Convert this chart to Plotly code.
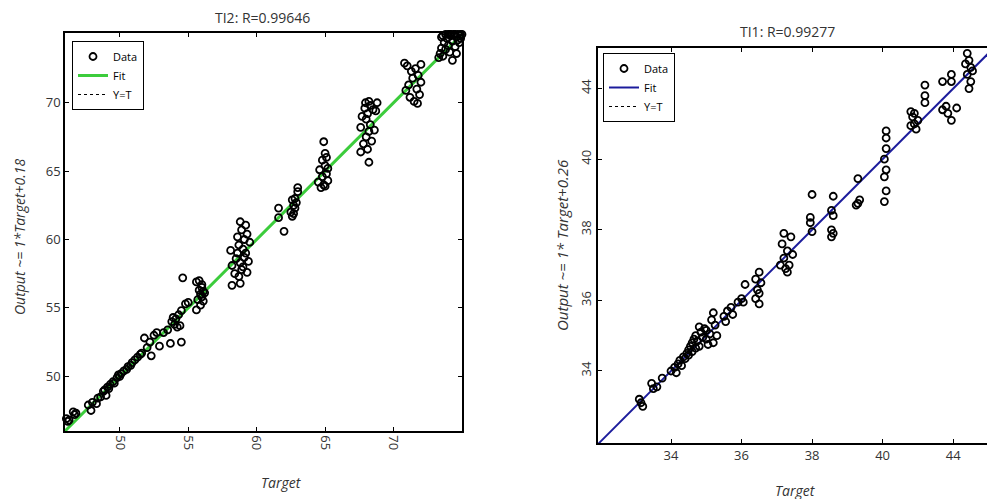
import plotly.graph_objects as go

# ---------------- data: left panel (TI2) ----------------
ti2_target = [46.1, 46.2, 46.3, 46.6, 46.7, 46.8, 47.7, 47.9, 48.0, 48.3, 48.4, 48.6, 48.8, 48.9, 49.0,
              49.1, 49.2, 49.3, 49.5, 49.6, 49.8, 49.9, 50.0, 50.1, 50.3, 50.5, 50.6, 50.8, 50.9, 51.1,
              51.3, 51.5, 51.6, 51.8, 52.0, 52.2, 52.3, 52.5, 52.7, 52.9, 53.2, 53.5,
              53.7, 53.8, 53.9, 54.0, 54.1, 54.2, 54.3, 54.4, 54.5, 54.5, 54.6, 54.8, 55.0,
              55.6, 55.6, 55.7, 55.8, 55.9, 55.9, 56.0, 56.0, 56.1, 56.1, 56.2, 55.8, 56.0,
              58.1, 58.2, 58.2, 58.4, 58.5, 58.6, 58.6, 58.7, 58.7, 58.8, 58.8, 58.8, 58.9, 58.9, 59.0,
              59.0, 59.1, 59.1, 59.2, 59.2, 59.3, 59.3, 59.4, 59.5,
              61.6, 61.6, 62.0, 62.5, 62.6, 62.7, 62.7, 62.8, 62.9, 63.0, 63.0, 62.6, 62.8,
              64.5, 64.6, 64.7, 64.8, 64.8, 64.9, 64.9, 65.0, 65.0, 65.0, 65.1, 65.1, 65.2, 65.2,
              67.6, 67.6, 67.7, 67.8, 67.9, 67.95, 68.0, 68.0, 68.1, 68.1, 68.2, 68.2, 68.2, 68.3, 68.3,
              68.4, 68.5, 68.6, 68.7, 68.8,
              70.8, 70.9, 71.0, 71.1, 71.2, 71.3, 71.4, 71.5, 71.6, 71.7, 71.75, 71.8, 71.9, 72.0, 72.0,
              73.3, 73.4, 73.5, 73.6, 73.7, 73.8, 73.9, 74.0, 74.1, 74.2, 74.3, 74.3, 74.4, 74.5, 74.6,
              74.7, 74.8, 74.9, 73.5, 73.8, 74.0, 74.2, 74.5, 74.7, 74.9, 75.0, 74.6, 73.6, 74.1]
ti2_output = [46.9, 46.7, 46.8, 47.4, 47.2, 47.3, 47.9, 47.5, 48.1, 48.0, 48.4, 48.5, 48.9, 49.0, 48.6,
              49.2, 49.1, 49.4, 49.6, 49.5, 49.9, 50.1, 50.0, 50.2, 50.4, 50.5, 50.7, 50.8, 51.0, 51.2,
              51.4, 51.6, 51.7, 52.8, 52.1, 52.5, 51.5, 53.0, 53.2, 52.2, 53.2, 53.4,
              52.4, 54.0, 54.3, 53.8, 54.2, 53.6, 54.5, 53.7, 52.5, 54.8, 57.2, 55.3, 55.4,
              56.9, 54.85, 55.6, 56.3, 55.2, 56.0, 56.5, 55.8, 56.2, 55.5, 56.1, 57.0, 56.7,
              59.2, 56.65, 58.1, 57.5, 58.6, 59.0, 60.2, 57.3, 59.6, 61.3, 56.8, 58.3, 60.7, 57.8, 59.3,
              58.0, 60.0, 58.7, 61.05, 59.0, 57.6, 60.4, 58.4, 59.8,
              62.3, 61.6, 60.6, 62.0, 61.7, 62.5, 61.9, 63.0, 62.7, 63.5, 63.8, 62.9, 62.3,
              64.2, 65.1, 63.8, 64.6, 65.8, 67.15, 64.0, 65.4, 66.3, 63.9, 64.8, 66.0, 64.3, 65.2,
              68.2, 66.4, 69.0, 67.0, 69.6, 70.0, 67.5, 68.8, 66.6, 69.2, 65.65, 67.9, 70.1, 68.4, 69.8,
              67.2, 69.5, 68.0, 69.4, 70.0,
              72.9, 70.9, 72.7, 71.3, 70.4, 72.3, 71.8, 70.1, 72.5, 71.0, 69.95, 72.0, 70.6, 72.8, 71.5,
              73.3, 73.6, 74.0, 73.4, 74.4, 73.9, 74.7, 74.2, 73.7, 74.9, 73.1, 74.5, 75.0, 74.1, 74.8,
              75.0, 74.4, 75.0, 74.8, 75.0, 75.0, 75.0, 75.0, 74.6, 74.7, 75.0, 73.6, 74.9, 75.0]
ti2_line = [46.0, 75.0]

# ---------------- data: right panel (TI1) ----------------
# positions on the evenly spaced axis; tick labels as printed
ti1_tick_pos = [34, 36, 38, 40, 42]
ti1_tick_text = ["34", "36", "38", "40", "44"]
ti1_target = [32.5, 33.1, 33.2, 33.15, 33.45, 33.5, 33.6, 33.75, 34.0, 34.1, 34.15, 34.2, 34.25, 34.3,
              34.35, 34.4, 34.45, 34.5, 34.5, 34.55, 34.6, 34.6, 34.65, 34.7, 34.7, 34.75, 34.8, 34.8,
              34.85, 34.9, 34.95, 35.0, 35.0, 35.05, 35.1, 35.15, 35.2, 35.2, 35.25, 35.3, 35.5, 35.55,
              35.6, 35.7, 35.75, 35.9, 36.0, 36.05, 36.1, 36.4, 36.4, 36.45, 36.5, 36.5, 36.55, 36.5,
              37.1, 37.15, 37.2, 37.25, 37.3, 37.3, 37.35, 37.4, 37.45, 37.2,
              38.0, 37.95, 37.95, 38.0, 38.6, 38.55, 38.6, 38.55, 38.55, 38.6, 39.3, 39.35, 39.25, 39.3,
              40.1, 40.1, 40.1, 40.05, 40.1, 40.05, 40.1, 40.05,
              40.8, 40.85, 40.9, 40.95, 41.0, 40.8, 40.9,
              41.2, 41.2, 41.2, 41.7, 41.95, 41.95, 41.7, 41.85, 41.95, 42.1, 41.8,
              42.45, 42.4, 42.45, 42.5, 42.4, 42.5, 42.45, 42.55, 42.35]
ti1_output = [31.95, 33.2, 33.0, 33.1, 33.65, 33.5, 33.55, 33.8, 34.0, 34.1, 33.95, 34.2, 34.3, 34.15,
              34.4, 34.35, 34.5, 34.6, 34.45, 34.7, 34.55, 34.8, 34.9, 34.65, 35.0, 34.85, 35.25, 34.7,
              35.1, 34.95, 35.2, 34.9, 35.15, 34.75, 35.05, 35.45, 35.65, 34.8, 35.3, 35.0, 35.55, 35.4,
              35.7, 35.8, 35.6, 35.95, 36.05, 35.95, 36.45, 36.6, 36.05, 36.3, 35.9, 36.8, 36.5, 36.2,
              37.0, 37.6, 37.2, 36.9, 36.8, 37.4, 37.0, 37.8, 37.3, 37.9,
              39.0, 38.35, 38.2, 37.95, 38.95, 38.55, 38.4, 38.0, 37.8, 37.9, 38.75, 38.85, 38.7, 39.45,
              40.8, 40.6, 40.3, 40.0, 39.7, 39.5, 39.1, 38.8,
              41.35, 41.2, 41.0, 40.85, 41.1, 40.95, 41.3,
              42.1, 41.8, 41.6, 42.2, 42.4, 42.2, 41.4, 41.3, 41.1, 41.45, 41.5,
              43.2, 43.0, 42.8, 42.6, 42.4, 42.2, 42.0, 42.5, 42.7]
ti1_line = [31.93, 43.3]

GREEN = "#3ccc3c"
BLUE = "#1c1c9c"
FONT = "Open Sans"

fig = go.Figure()

marker_style = dict(symbol="circle-open", size=7, color="black", line=dict(width=1.8))

# left panel
fig.add_trace(go.Scatter(x=ti2_line, y=ti2_line, mode="lines", name="Y=T", legend="legend",
                         line=dict(color="black", width=1, dash="dot"), legendrank=3))
fig.add_trace(go.Scatter(x=ti2_line, y=ti2_line, mode="lines", name="Fit", legend="legend",
                         line=dict(color=GREEN, width=3), legendrank=2))
fig.add_trace(go.Scatter(x=ti2_target, y=ti2_output, mode="markers", name="Data", legend="legend",
                         cliponaxis=False, legendrank=1, marker=marker_style))

# right panel
fig.add_trace(go.Scatter(x=ti1_line, y=ti1_line, mode="lines", name="Y=T", legend="legend2",
                         xaxis="x2", yaxis="y2", line=dict(color="black", width=1, dash="dot"), legendrank=3))
fig.add_trace(go.Scatter(x=ti1_line, y=ti1_line, mode="lines", name="Fit", legend="legend2",
                         xaxis="x2", yaxis="y2", line=dict(color=BLUE, width=2), legendrank=2))
fig.add_trace(go.Scatter(x=ti1_target, y=ti1_output, mode="markers", name="Data", legend="legend2",
                         xaxis="x2", yaxis="y2", cliponaxis=False, legendrank=1, marker=marker_style))

W, H = 987, 499
def px(x):
    return x / W
def py(y):
    return 1 - y / H

axis_common = dict(showgrid=False, zeroline=False, showline=True, linecolor="black", linewidth=1.5,
                   ticks="inside", ticklen=4, tickcolor="black",
                   tickfont=dict(family=FONT, size=13, color="#333333"))

legend_common = dict(bgcolor="white", bordercolor="black", borderwidth=1,
                     font=dict(family=FONT, size=11, color="black"),
                     xanchor="left", yanchor="top", tracegroupgap=0, itemwidth=30)

fig.update_layout(
    width=W, height=H, margin=dict(l=0, r=0, t=0, b=0),
    paper_bgcolor="white", plot_bgcolor="white",
    xaxis=dict(domain=[px(65), px(462)], range=[46, 75], tickvals=[50, 55, 60, 65, 70],
               tickangle=90, mirror="ticks", anchor="y", **axis_common),
    yaxis=dict(domain=[py(431), py(33)], range=[46, 75.1], tickvals=[50, 55, 60, 65, 70],
               mirror="ticks", anchor="x", **axis_common),
    xaxis2=dict(domain=[px(598), 1.0], range=[31.93, 42.96], tickvals=ti1_tick_pos, ticktext=ti1_tick_text,
                mirror="ticks", anchor="y2", **axis_common),
    yaxis2=dict(domain=[py(443), py(48)], range=[31.96, 43.15], tickvals=ti1_tick_pos, ticktext=ti1_tick_text,
                tickangle=-90, mirror=False, anchor="x2", **axis_common),
    legend=dict(x=px(72), y=py(41), **legend_common),
    legend2=dict(x=px(603), y=py(53), **legend_common),
    showlegend=True,
)

ann = [
    dict(text="TI2: R=0.99646", x=px(262), y=py(17), font=dict(size=14)),
    dict(text="TI1: R=0.99277", x=px(787), y=py(32), font=dict(size=14)),
    dict(text="<i>Target</i>", x=px(281), y=py(482), font=dict(size=14)),
    dict(text="<i>Target</i>", x=px(795), y=py(490), font=dict(size=14)),
    dict(text="<i>Output ~= 1*Target+0.18</i>", x=px(20), y=py(237), textangle=-90, font=dict(size=14)),
    dict(text="<i>Output ~= 1* Target+0.26</i>", x=px(562), y=py(245), textangle=-90, font=dict(size=15)),
]
for a in ann:
    a["font"].update(family=FONT, color="#333333")
    fig.add_annotation(xref="paper", yref="paper", showarrow=False, xanchor="center", yanchor="middle", **a)

fig.write_html("out.html")
